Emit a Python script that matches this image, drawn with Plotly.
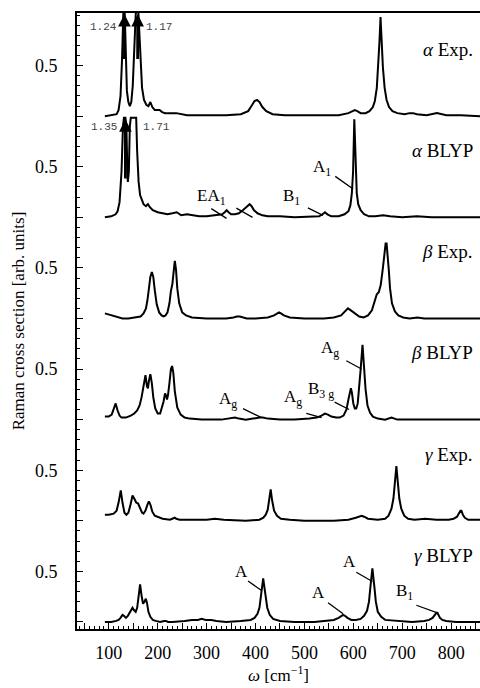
import plotly.graph_objects as go

# ---------------- data (wavenumber cm^-1, relative Raman intensity) ----------------
alpha_exp = [(92,0.00),(110,0.01),(116,0.02),(120,0.06),(124,0.20),(127,0.55),(129,0.95),(131,1.24),(133,0.95),(135,0.50),(137,0.25),(140,0.14),(143,0.10),(146,0.14),(149,0.30),(152,0.65),(155,1.00),(159,1.17),(162,0.90),(165,0.50),(168,0.28),(172,0.16),(177,0.11),(181,0.10),(185,0.14),(189,0.09),(194,0.06),(199,0.06),(204,0.06),(209,0.04),(215,0.03),(225,0.03),(238,0.03),(260,0.01),(300,0.01),(340,0.01),(370,0.02),(385,0.05),(393,0.11),(398,0.15),(403,0.16),(408,0.14),(414,0.09),(422,0.05),(435,0.02),(460,0.01),(520,0.01),(570,0.01),(590,0.03),(598,0.05),(603,0.06),(608,0.05),(615,0.03),(625,0.03),(633,0.05),(640,0.09),(644,0.15),(648,0.28),(651,0.48),(653.5,0.74),(655.6,0.98),(658,0.72),(660.5,0.48),(664,0.28),(668,0.16),(673,0.09),(680,0.05),(690,0.03),(705,0.02),(715,0.03),(722,0.03),(730,0.02),(750,0.01),(771,0.03),(790,0.01),(820,0.01),(859,0.00)]

alpha_blyp = [(92,0.00),(105,0.01),(114,0.03),(118,0.06),(122,0.15),(126,0.45),(129,0.90),(131,1.30),(134,1.35),(136,0.90),(138,0.45),(139,0.35),(141,0.45),(143,0.90),(145,1.40),(148,1.71),(151,1.71),(154,1.60),(156,1.10),(158,0.65),(161,0.35),(164,0.22),(167,0.17),(171,0.13),(176,0.11),(180,0.13),(184,0.10),(190,0.07),(200,0.05),(210,0.04),(220,0.03),(230,0.04),(239,0.05),(248,0.02),(260,0.03),(272,0.02),(285,0.01),(300,0.01),(320,0.02),(332,0.03),(337,0.05),(341,0.07),(345,0.05),(350,0.03),(358,0.03),(366,0.04),(374,0.07),(380,0.10),(384,0.12),(388,0.13),(392,0.11),(397,0.07),(404,0.04),(414,0.02),(425,0.01),(450,0.01),(480,0.00),(510,0.01),(530,0.01),(537,0.03),(542,0.05),(547,0.03),(555,0.01),(570,0.01),(582,0.03),(590,0.06),(594,0.12),(597,0.24),(599.5,0.45),(602,0.97),(604.5,0.45),(607,0.24),(610,0.13),(615,0.07),(622,0.03),(632,0.01),(645,0.01),(661,0.02),(675,0.01),(700,0.00),(730,0.01),(760,0.00),(800,0.00),(859,0.00)]

beta_exp = [(92,0.05),(100,0.04),(110,0.02),(120,0.01),(128,0.00),(140,0.00),(155,0.01),(165,0.02),(171,0.05),(176,0.10),(179,0.18),(182,0.30),(185,0.41),(188,0.46),(191,0.41),(194,0.28),(198,0.14),(203,0.06),(208,0.03),(212,0.02),(216,0.03),(220,0.06),(224,0.15),(227,0.27),(230,0.34),(233,0.48),(235,0.57),(237.5,0.48),(240,0.30),(244,0.15),(250,0.06),(258,0.03),(270,0.01),(300,0.00),(340,0.00),(355,0.01),(362,0.02),(368,0.02),(374,0.01),(382,0.00),(400,0.00),(425,0.01),(438,0.03),(444,0.05),(448,0.06),(452,0.05),(458,0.03),(470,0.01),(500,0.00),(540,0.00),(560,0.01),(575,0.03),(583,0.07),(589,0.10),(595,0.08),(603,0.05),(612,0.02),(621,0.01),(630,0.03),(638,0.08),(644,0.17),(648,0.24),(652,0.26),(656,0.33),(660,0.48),(664,0.65),(666,0.74),(668,0.74),(670,0.64),(672.5,0.48),(675,0.30),(679,0.15),(685,0.07),(692,0.03),(702,0.01),(715,0.00),(731,0.01),(745,0.00),(770,0.00),(810,0.00),(859,0.00)]

beta_blyp = [(92,0.03),(100,0.03),(106,0.05),(110,0.10),(114,0.16),(118,0.09),(122,0.04),(126,0.02),(135,0.02),(145,0.04),(152,0.06),(158,0.09),(163,0.14),(167,0.22),(171,0.35),(175,0.44),(178,0.33),(180,0.31),(182,0.38),(185,0.45),(188,0.36),(191,0.22),(195,0.11),(200,0.06),(205,0.06),(209,0.12),(212,0.18),(215,0.26),(217,0.24),(219,0.20),(221,0.24),(224,0.36),(227,0.50),(229.5,0.53),(232,0.46),(235,0.28),(240,0.12),(247,0.05),(255,0.02),(265,0.01),(290,0.00),(330,0.00),(350,0.01),(358,0.02),(366,0.01),(380,0.00),(395,0.01),(403,0.02),(409,0.02),(415,0.02),(425,0.01),(450,0.00),(480,0.00),(510,0.01),(525,0.02),(535,0.04),(542,0.06),(548,0.05),(555,0.03),(565,0.02),(572,0.02),(580,0.04),(586,0.10),(590,0.20),(593,0.28),(595,0.31),(597,0.27),(600,0.16),(603,0.11),(606,0.11),(609,0.16),(612,0.30),(615,0.50),(618.8,0.74),(622,0.52),(625,0.30),(629,0.14),(634,0.07),(640,0.03),(650,0.01),(665,0.00),(678,0.02),(690,0.00),(720,0.00),(780,0.00),(859,0.00)]

gamma_exp = [(92,0.06),(100,0.06),(110,0.07),(116,0.10),(120,0.18),(124.5,0.30),(128,0.18),(132,0.08),(136,0.06),(140,0.08),(144,0.15),(148.5,0.25),(152,0.22),(156,0.18),(160,0.17),(164,0.12),(168,0.08),(171,0.07),(175,0.10),(179,0.16),(182,0.19),(185,0.16),(189,0.09),(194,0.05),(200,0.04),(210,0.02),(225,0.01),(232,0.02),(235,0.03),(238,0.02),(245,0.01),(270,0.01),(300,0.01),(317,0.02),(335,0.01),(380,0.00),(408,0.01),(416,0.03),(421,0.06),(425,0.11),(428,0.19),(431,0.31),(434,0.20),(438,0.10),(444,0.05),(452,0.02),(470,0.01),(500,0.00),(560,0.00),(590,0.01),(605,0.03),(612,0.04),(617,0.05),(622,0.04),(630,0.02),(650,0.01),(665,0.02),(672,0.05),(678,0.12),(682,0.22),(685,0.38),(688,0.54),(691,0.38),(694,0.22),(698,0.12),(704,0.05),(712,0.02),(725,0.01),(747,0.02),(770,0.01),(795,0.01),(805,0.02),(812,0.04),(816,0.07),(819,0.10),(821,0.10),(824,0.06),(828,0.03),(835,0.01),(845,0.01),(859,0.01)]

gamma_blyp = [(92,0.00),(105,0.00),(115,0.01),(120,0.02),(124,0.04),(128,0.07),(131,0.06),(135,0.04),(139,0.06),(143,0.10),(146,0.13),(148.5,0.14),(151,0.12),(155,0.10),(158,0.14),(161,0.25),(164,0.37),(167,0.26),(170,0.18),(173,0.20),(175.7,0.23),(178,0.19),(181,0.10),(185,0.05),(190,0.02),(196,0.01),(205,0.00),(213,0.01),(217,0.01),(221,0.00),(230,0.00),(255,0.01),(270,0.02),(282,0.02),(290,0.03),(298,0.02),(310,0.02),(320,0.01),(340,0.00),(370,0.01),(390,0.02),(398,0.04),(404,0.08),(408,0.14),(411,0.24),(413.5,0.35),(415.7,0.43),(418,0.35),(420.5,0.24),(424,0.14),(429,0.07),(436,0.03),(450,0.01),(480,0.00),(520,0.00),(545,0.01),(560,0.02),(570,0.04),(575,0.06),(579,0.07),(583,0.06),(588,0.04),(596,0.02),(605,0.02),(615,0.03),(622,0.06),(628,0.11),(632,0.20),(635,0.35),(639,0.53),(643,0.35),(646,0.20),(650,0.10),(657,0.05),(665,0.02),(690,0.01),(720,0.00),(745,0.01),(755,0.02),(762,0.04),(767,0.07),(770,0.09),(772,0.09),(774,0.07),(777,0.04),(782,0.02),(790,0.01),(810,0.00),(840,0.00),(862,0.00)]

series = [
    ("α Exp.", alpha_exp, 5, None),
    ("α BLYP", alpha_blyp, 4, 0.985),
    ("β Exp.", beta_exp, 3, None),
    ("β BLYP", beta_blyp, 2, None),
    ("γ Exp.", gamma_exp, 1, None),
    ("γ BLYP", gamma_blyp, 0, None),
]
panel_labels = ["<i>α</i> Exp.", "<i>α</i> BLYP", "<i>β</i> Exp.", "<i>β</i> BLYP", "<i>γ</i> Exp.", "<i>γ</i> BLYP"]
x_ticks = [100, 200, 300, 400, 500, 600, 700, 800]

# mode labels: (text, x, y)
mode_labels = [
    ("A<sub>1</sub>", 536, 4.49), ("EA<sub>1</sub>", 311, 4.20), ("B<sub>1</sub>", 474, 4.20),
    ("A<sub>g</sub>", 552, 2.70), ("A<sub>g</sub>", 343, 2.19), ("A<sub>g</sub>", 476, 2.21), ("B<sub>3 g</sub>", 534, 2.29),
    ("A", 372, 0.50), ("A", 529, 0.29), ("A", 593, 0.60), ("B<sub>1</sub>", 705, 0.30),
]
# leader lines: (x_from, y_from, x_to, y_to)
leaders = [
    (560, 4.415, 599.6, 4.28), (306.5, 4.095, 340.7, 3.99), (357.7, 4.10, 393.9, 4.00), (504, 4.10, 538, 4.02),
    (582.6, 2.59, 616.7, 2.50), (371.3, 2.115, 412.3, 2.02), (500.8, 2.066, 535, 2.02), (558.7, 2.18, 591.4, 2.10),
    (381.6, 0.415, 412.3, 0.31), (545.2, 0.20, 579, 0.08), (603, 0.50, 639, 0.40), (725.8, 0.17, 772, 0.09),
]
# off-scale peaks: (x_peak, y_tail, y_tip, text, text_x, text_y)
offscale = [
    (132, 5.55, 6.01, "1.24", 90, 5.88), (159, 5.55, 6.01, "1.17", 203, 5.88),
    (134, 4.37, 4.97, "1.35", 90, 4.89), (None, None, None, "1.71", 197, 4.89),
]

fig = go.Figure()
for name, data, off, clip in series:
    xs = [p[0] for p in data]
    ys = [(min(p[1], clip) if clip else p[1]) + off for p in data]
    fig.add_trace(go.Scatter(x=xs, y=ys, mode="lines", name=name,
                             line=dict(color="black", width=2), showlegend=False))

serif = "Liberation Serif, Times New Roman, serif"
ann = []
for lab, (_, _, off, _) in zip(panel_labels, series):
    ann.append(dict(x=848, y=off + 0.66, text=lab, showarrow=False, xanchor="right", yanchor="middle",
                    font=dict(family=serif, size=19, color="black")))
for t, x, y in mode_labels:
    ann.append(dict(x=x, y=y, text=t, showarrow=False, font=dict(family=serif, size=17, color="black")))
for x0, y0, x1, y1 in leaders:
    ann.append(dict(x=x1, y=y1, ax=x0, ay=y0, axref="x", ayref="y", text="", showarrow=True,
                    arrowhead=0, arrowwidth=1.3, arrowcolor="black"))
for xp, yt, ytip, t, tx, ty in offscale:
    if xp is not None:
        ann.append(dict(x=xp, y=ytip, ax=xp, ay=yt, axref="x", ayref="y", text="", showarrow=True,
                        arrowhead=2, arrowsize=0.9, arrowwidth=2.8, arrowcolor="black"))
    ann.append(dict(x=tx, y=ty, text=t, showarrow=False,
                    font=dict(family="Liberation Mono, DejaVu Sans Mono, monospace", size=11, color="#444")))

xt_vals = list(range(50, 860, 50))
xt_text = [str(v) if v in x_ticks else "" for v in xt_vals]
yt_vals = [k * 0.5 for k in range(0, 12)]
yt_text = ["0.5" if k % 2 == 1 else "" for k in range(0, 12)]

fig.update_layout(
    width=480, height=688,
    margin=dict(l=77, r=0, t=13, b=59),
    paper_bgcolor="white", plot_bgcolor="white",
    annotations=ann,
    xaxis=dict(range=[35, 859], showline=True, linecolor="black", linewidth=2, mirror=True,
               ticks="inside", tickvals=xt_vals, ticktext=xt_text, ticklen=6, tickwidth=1.3,
               tickcolor="black", ticklabelstandoff=6,
               minor=dict(dtick=10, tick0=0, ticks="inside", ticklen=3, tickcolor="black", tickwidth=1),
               showgrid=False, zeroline=False,
               tickfont=dict(family=serif, size=18, color="black"),
               title=dict(text="<i>ω</i> [cm<sup>−1</sup>]", font=dict(family=serif, size=17, color="black"),
                          standoff=4)),
    yaxis=dict(range=[-0.07, 6.02], showline=True, linecolor="black", linewidth=2,
               ticks="inside", tickvals=yt_vals, ticktext=yt_text, ticklen=6, tickwidth=1.3,
               tickcolor="black", ticklabelstandoff=14,
               minor=dict(dtick=0.1, tick0=0, ticks="inside", ticklen=3, tickcolor="black", tickwidth=1),
               showgrid=False, zeroline=False,
               tickfont=dict(family=serif, size=18, color="black"),
               title=dict(text="Raman cross section [arb. units]",
                          font=dict(family=serif, size=17, color="black"), standoff=6)),
)

fig.write_html("out.html")
